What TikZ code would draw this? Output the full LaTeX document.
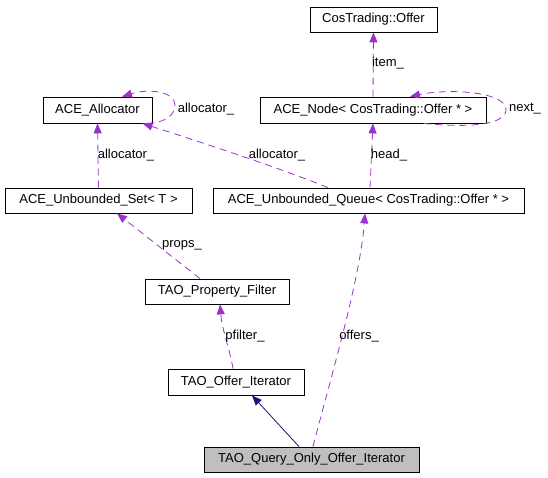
\documentclass[tikz,border=0pt]{standalone}
\usepackage{fontspec}
\setmainfont{Liberation Sans}
\usetikzlibrary{arrows.meta}

\begin{document}
\begin{tikzpicture}[x=1pt,y=-1pt,
  box/.style={draw=black,line width=0.8pt,inner sep=0pt,minimum height=25pt,font=\fontsize{13}{15}\selectfont},
  lbl/.style={inner sep=0pt,font=\fontsize{13}{15}\selectfont},
  rel/.style={draw=orchid,line width=0.8pt,dash pattern=on 7pt off 5pt,-{Triangle[length=10pt,width=8pt,fill=orchid]}},
  inh/.style={draw=navy,line width=0.8pt,-{Triangle[length=10pt,width=8pt,fill=navy]}}]
\definecolor{orchid}{RGB}{154,50,205}
\definecolor{navy}{RGB}{25,25,112}
\definecolor{grey}{RGB}{191,191,191}
\useasboundingbox (0,0) rectangle (548,477);
\node[box,minimum width=127pt] (v1) at (373.5,19.5) {CosTrading::Offer};
\node[box,minimum width=109pt,minimum height=26pt] (v2) at (97.5,110) {ACE\_Allocator};
\node[box,minimum width=226pt,minimum height=26pt] (v3) at (373,110) {ACE\_Node< CosTrading::Offer * >};
\node[box,minimum width=187pt] (v4) at (98.5,200.5) {ACE\_Unbounded\_Set< T >};
\node[box,minimum width=311pt] (v5) at (368.5,200.5) {ACE\_Unbounded\_Queue< CosTrading::Offer * >};
\node[box,minimum width=144pt] (v6) at (217,291.5) {TAO\_Property\_Filter};
\node[box,minimum width=136pt,minimum height=26pt] (v7) at (236,382) {TAO\_Offer\_Iterator};
\node[box,fill=grey,minimum width=215pt] (v8) at (311.5,459.5) {TAO\_Query\_Only\_Offer\_Iterator};
% usage edges
\draw[rel] (v3.north) -- (v1.south);
\draw[rel] (v3.south east) ++(-63,0) .. controls (470,128) and (505,125) .. (506,110)
  .. controls (507,92) and (450,88) .. ([xshift=37pt]v3.north);
\draw[rel] ([xshift=49.5pt]v2.south) .. controls (165,123) and (175,115) .. (175,105)
  .. controls (175,92) and (150,88) .. ([xshift=24.5pt]v2.north);
\draw[rel] (v4.north) -- (v2.south);
\draw[rel] ([xshift=-40.5pt]v5.north) .. controls (280,168) and (200,142) .. ([xshift=45pt]v2.south);
\draw[rel] ([xshift=1.5pt]v5.north) -- (v3.south);
\draw[rel] ([xshift=-17pt]v6.north) -- ([xshift=18.5pt]v4.south);
\draw[rel] ([xshift=-3pt]v7.north) .. controls (230,350) and (222,330) .. ([xshift=3pt]v6.south);
\draw[rel] ([xshift=1.5pt]v8.north) .. controls (330,380) and (360,280) .. ([xshift=-3.5pt]v5.south);
% inheritance
\draw[inh] ([xshift=-12.5pt]v8.north) -- ([xshift=16pt]v7.south);
% labels
\node[lbl] (l1) at (388,63) {item\_};
\node[lbl] (l2) at (525,109) {next\_};
\node[lbl] (l3) at (206,109) {allocator\_};
\node[lbl] (l4) at (126,155) {allocator\_};
\node[lbl] (l5) at (277,155) {allocator\_};
\node[lbl] (l6) at (389,155) {head\_};
\node[lbl] (l7) at (182,245) {props\_};
\node[lbl] (l8) at (245,336) {pfilter\_};
\node[lbl] (l9) at (359,336) {offers\_};
\end{tikzpicture}
\end{document}
